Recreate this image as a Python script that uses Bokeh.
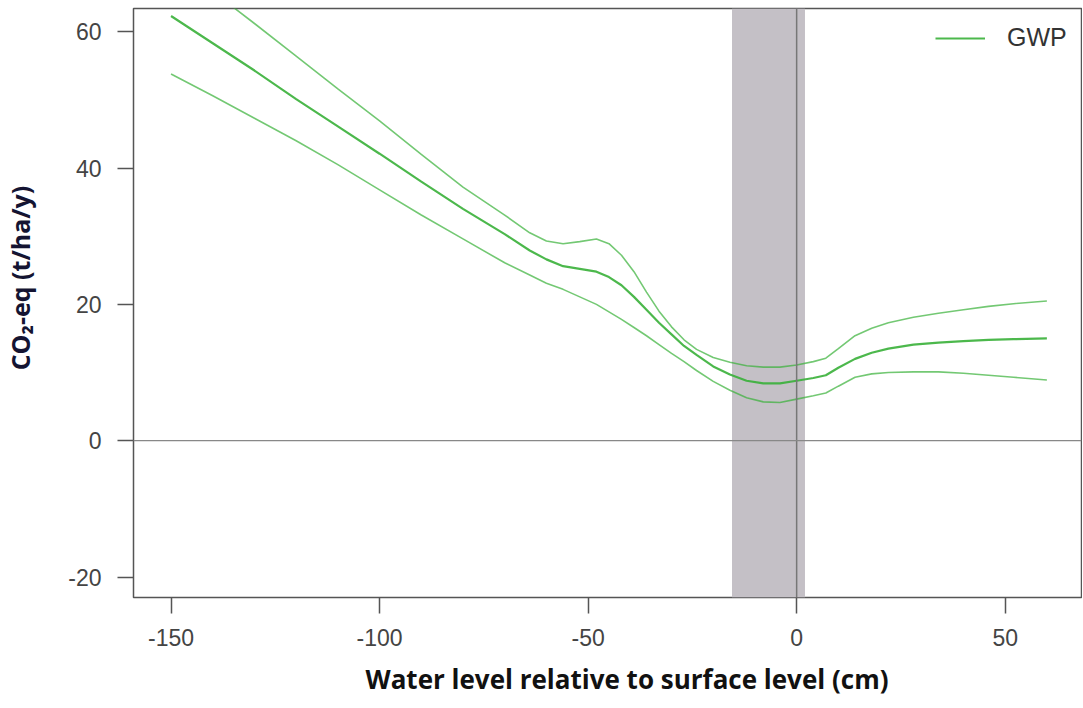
import math
from bokeh.plotting import figure
from bokeh.layouts import row
from bokeh.models import Range1d, BoxAnnotation, Span, FixedTicker, Legend, LegendItem, Title
from bokeh.embed import file_html
from bokeh.resources import INLINE

# Data
water_level = [-150, -140, -130, -120, -110, -100, -90, -80, -70, -64, -60, -56, -52, -48, -45,
               -42, -39, -36, -33, -30, -27, -24, -20, -16, -12, -8, -4, 0, 4, 7, 10, 14, 18,
               22, 28, 34, 40, 46, 52, 60]
gwp_mean = [62.3, 58.3, 54.3, 50.1, 46.1, 42.1, 38.0, 34.0, 30.3, 27.9, 26.6, 25.6, 25.2, 24.8,
            24.0, 22.8, 21.1, 19.2, 17.3, 15.6, 13.9, 12.6, 10.9, 9.7, 8.8, 8.4, 8.4, 8.8, 9.2,
            9.6, 10.7, 12.0, 12.9, 13.5, 14.1, 14.4, 14.6, 14.8, 14.9, 15.0]
gwp_upper = [70.6, 65.9, 61.2, 56.4, 51.6, 46.9, 42.0, 37.2, 33.1, 30.5, 29.3, 28.9, 29.2, 29.6,
             28.9, 27.2, 24.8, 21.8, 19.0, 16.7, 14.8, 13.4, 12.2, 11.5, 11.0, 10.8, 10.8, 11.1,
             11.6, 12.1, 13.5, 15.4, 16.5, 17.3, 18.1, 18.7, 19.2, 19.7, 20.1, 20.5]
gwp_lower = [53.8, 50.6, 47.3, 44.0, 40.5, 36.8, 33.1, 29.6, 26.1, 24.3, 23.1, 22.2, 21.1, 20.0,
             18.9, 17.8, 16.6, 15.4, 14.1, 12.8, 11.6, 10.3, 8.7, 7.4, 6.3, 5.7, 5.6, 6.1, 6.6,
             7.0, 8.0, 9.3, 9.8, 10.0, 10.1, 10.1, 9.9, 9.6, 9.3, 8.9]
band_lo, band_hi = -15.5, 2.0
x_ticks = [-150, -100, -50, 0, 50]
y_ticks = [-20, 0, 20, 40, 60]
x_label = "Water level relative to surface level (cm)"
y_label = "CO\u2082-eq (t/ha/y)"

H = 708
LW = 48  # width of the strip that holds the y-axis title

# narrow strip holding the rotated y-axis title
ylab = figure(width=LW, height=H, output_backend="svg", toolbar_location=None,
              x_axis_location=None, y_axis_location=None,
              x_range=Range1d(0, LW), y_range=Range1d(0, H),
              min_border_left=0, min_border_right=0, min_border_top=0, min_border_bottom=0)
ylab.grid.visible = False
ylab.outline_line_color = None
ylab.text(x=[19], y=[384], text=[y_label], angle=math.pi / 2,
          text_align="center", text_baseline="middle", text_font_size="25px",
          text_font={"value": "Open Sans"}, text_font_style="bold", text_color="#141432")

p = figure(width=1082 - LW, height=H, output_backend="svg", toolbar_location=None,
           x_range=Range1d(-159.0, 68.3), y_range=Range1d(-23.0, 63.4),
           min_border_left=133 - LW, min_border_right=1, min_border_top=8, min_border_bottom=111)
p.grid.visible = False
p.background_fill_color = "white"
p.outline_line_color = "#555555"
p.outline_line_width = 1.5

p.add_layout(BoxAnnotation(left=band_lo, right=band_hi, fill_color="#c4c0c6", fill_alpha=1.0,
                           line_color=None, level="underlay"))
p.add_layout(Span(location=0, dimension="height", line_color="#777777", line_width=1.5))
p.add_layout(Span(location=0, dimension="width", line_color="#888888", line_width=1.2))

green = "#38b038"
p.line(water_level, gwp_upper, line_color=green, line_width=1.6, line_alpha=0.7)
p.line(water_level, gwp_lower, line_color=green, line_width=1.6, line_alpha=0.7)
r_mean = p.line(water_level, gwp_mean, line_color=green, line_width=2.2, line_alpha=0.9)

legend = Legend(items=[LegendItem(label="GWP", renderers=[r_mean])], location=(802, 545),
                border_line_color=None, background_fill_alpha=0, glyph_width=50,
                label_standoff=22, label_text_font="Liberation Sans", label_text_font_size="25px",
                label_text_color="#333333", margin=0, padding=10)
p.add_layout(legend)

for ax in (p.xaxis[0], p.yaxis[0]):
    ax.axis_line_color = None
    ax.major_tick_line_color = "#555555"
    ax.major_tick_line_width = 1.5
    ax.major_tick_in = 0
    ax.major_tick_out = 16
    ax.minor_tick_line_color = None
    ax.major_label_text_font = "Liberation Sans"
    ax.major_label_text_font_size = "23px"
    ax.major_label_text_color = "#444444"

p.xaxis.ticker = FixedTicker(ticks=x_ticks)
p.yaxis.ticker = FixedTicker(ticks=y_ticks)
p.xaxis.major_label_overrides = {t: str(t) for t in x_ticks}
p.yaxis.major_label_overrides = {t: str(t) for t in y_ticks}
p.xaxis.major_label_standoff = 15
p.yaxis.major_label_standoff = 16

p.add_layout(Title(text=x_label, align="left", offset=232, standoff=21,
                   text_font="Open Sans", text_font_style="bold", text_font_size="26px",
                   text_color="#111111"), "below")

layout = row(ylab, p, spacing=0)
open("out.html", "w").write(file_html(layout, INLINE))
